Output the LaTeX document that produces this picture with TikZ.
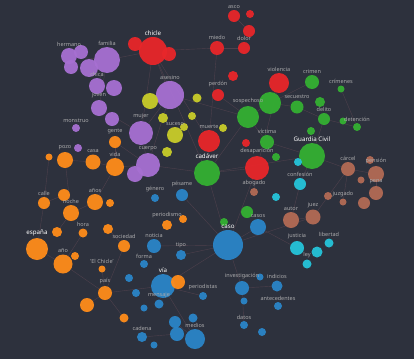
\documentclass[tikz,border=0pt]{standalone}
\usepackage{fontspec}
\setmainfont{Noto Sans}
\usepackage{tikz}
\usetikzlibrary{positioning}
\definecolor{bgcol}{RGB}{45,49,61}
\definecolor{cpurple}{RGB}{167,112,210}
\definecolor{cred}{RGB}{232,38,42}
\definecolor{cyellow}{RGB}{200,204,42}
\definecolor{cgreen}{RGB}{52,176,50}
\definecolor{corange}{RGB}{255,140,26}
\definecolor{cblue}{RGB}{42,133,200}
\definecolor{ccyan}{RGB}{37,196,218}
\definecolor{cbrown}{RGB}{178,106,85}
\definecolor{clabel}{RGB}{170,170,172}
\definecolor{cedge}{RGB}{78,64,76}
\pgfdeclarelayer{bg}
\pgfdeclarelayer{fg}
\pgfsetlayers{bg,main,fg}
\tikzset{
  wordcircle/.style = {circle,inner sep=0pt,fill opacity=0.95},
  termlabel/.style  = {inner sep=0.5pt, text=clabel, font=\fontsize{5.5}{6}\selectfont},
  hubload/.style    = {inner sep=0.5pt, text=white, font=\fontsize{6.2}{7}\selectfont\bfseries},
  link/.style       = {draw=cedge, line width=0.4pt}
}
\newcommand{\DrawTerm}[6][termlabel]{%
  % draws the circle (term)
  \node[wordcircle,fill=#5,minimum size=#4pt] (#2) at #3 {};
  % displays the word (top), kept above every circle
  \begin{pgfonlayer}{fg}
    \node[#1,above=1pt of #2] {#6};
  \end{pgfonlayer}
}
\newcommand{\DrawDot}[4]{%
  % circle with no word
  \node[wordcircle,fill=#4,minimum size=#3pt] (#1) at #2 {};
}

\begin{document}
\begin{tikzpicture}[x=1pt,y=-1pt]
    \begin{pgfonlayer}{bg}
      \fill[bgcol] (0,0) rectangle (414,359);
    \end{pgfonlayer}
    \useasboundingbox (0,0) rectangle (414,359);

    % purple group
    \DrawTerm{hermano}{(69,56)}{16}{cpurple}{hermano}
    \DrawDot{pA}{(81,52)}{14}{cpurple}
    \DrawDot{pB}{(71,67)}{14}{cpurple}
    \DrawDot{pC}{(89,68)}{18}{cpurple}
    \DrawTerm{familia}{(107,60)}{26}{cpurple}{familia}
    \DrawTerm{chica}{(97,86)}{16}{cpurple}{chica}
    \DrawDot{pD}{(114,88)}{16}{cpurple}
    \DrawTerm{joven}{(99,108)}{16}{cpurple}{joven}
    \DrawDot{pE}{(112,119)}{14}{cpurple}
    \DrawTerm{monstruo}{(76,128)}{8}{cpurple}{monstruo}
    \DrawDot{pF}{(78,148)}{8}{cpurple}
    \DrawTerm{asesino}{(170,95)}{28}{cpurple}{asesino}
    \DrawTerm{mujer}{(141,133)}{24}{cpurple}{mujer}
    \DrawTerm{cuerpo}{(148,165)}{24}{cpurple}{cuerpo}
    \DrawDot{pG}{(135,174)}{16}{cpurple}

    % red group
    \DrawTerm[hubload]{chicle}{(153,51)}{28}{cred}{chicle}
    \DrawDot{rA}{(135,44)}{14}{cred}
    \DrawDot{rB}{(169,54)}{14}{cred}
    \DrawTerm{asco}{(234,16)}{12}{cred}{asco}
    \DrawDot{rC}{(250,14)}{8}{cred}
    \DrawDot{rD}{(249,31)}{12}{cred}
    \DrawTerm{miedo}{(217,48)}{14}{cred}{miedo}
    \DrawTerm{dolor}{(244,48)}{12}{cred}{dolor}
    \DrawDot{rE}{(233,76)}{10}{cred}
    \DrawTerm{perdon}{(218,95)}{12}{cred}{perdón}
    \DrawTerm{violencia}{(279,83)}{20}{cred}{violencia}
    \DrawTerm{muerte}{(209,141)}{22}{cred}{muerte}
    \DrawDot{rF}{(246,143)}{8}{cred}
    \DrawTerm{desaparicion}{(257,168)}{24}{cred}{desaparición}

    % yellow group
    \DrawDot{yA}{(150,101)}{16}{cyellow}
    \DrawDot{yB}{(197,98)}{9}{cyellow}
    \DrawDot{yC}{(163,118)}{10}{cyellow}
    \DrawDot{yD}{(192,116)}{8}{cyellow}
    \DrawDot{yE}{(184,127)}{8}{cyellow}
    \DrawTerm{suceso}{(175,135)}{16}{cyellow}{suceso}
    \DrawDot{yF}{(167,152)}{10}{cyellow}
    \DrawDot{yG}{(223,128)}{8}{cyellow}

    % green group
    \DrawTerm{sospechoso}{(248,117)}{22}{cgreen}{sospechoso}
    \DrawDot{gA}{(270,103)}{22}{cgreen}
    \DrawTerm{crimen}{(312,82)}{14}{cgreen}{crimen}
    \DrawTerm{crimenes}{(341,89)}{7}{cgreen}{crímenes}
    \DrawTerm{secuestro}{(297,107)}{13}{cgreen}{secuestro}
    \DrawDot{gB}{(320,102)}{10}{cgreen}
    \DrawTerm{delito}{(324,119)}{12}{cgreen}{delito}
    \DrawDot{gC}{(343,121)}{7}{cgreen}
    \DrawTerm{detencion}{(357,127)}{8}{cgreen}{detención}
    \DrawTerm{victima}{(267,142)}{14}{cgreen}{víctima}
    \DrawDot{gD}{(311,131)}{8}{cgreen}
    \DrawTerm[hubload]{guardia}{(312,156)}{26}{cgreen}{Guardia Civil}
    \DrawTerm[hubload]{cadaver}{(207,173)}{26}{cgreen}{cadáver}
    \DrawDot{gE}{(276,157)}{8}{cgreen}
    \DrawDot{gF}{(247,212)}{12}{cgreen}
    \DrawDot{gG}{(224,222)}{8}{cgreen}

    % cyan group
    \DrawDot{cA}{(298,162)}{8}{ccyan}
    \DrawTerm{confesion}{(300,184)}{12}{ccyan}{confesión}
    \DrawDot{cB}{(276,197)}{8}{ccyan}
    \DrawTerm{justicia}{(297,248)}{14}{ccyan}{justicia}
    \DrawTerm{libertad}{(329,243)}{9}{ccyan}{libertad}
    \DrawDot{cC}{(317,252)}{11}{ccyan}
    \DrawTerm{ley}{(307,264)}{9}{ccyan}{ley}

    % brown group
    \DrawTerm{abogado}{(254,192)}{8}{cbrown}{abogado}
    \DrawTerm{carcel}{(348,169)}{14}{cbrown}{cárcel}
    \DrawDot{bA}{(370,160)}{8}{cbrown}
    \DrawTerm{pension}{(376,174)}{16}{cbrown}{pensión}
    \DrawDot{bB}{(361,180)}{7}{cbrown}
    \DrawTerm{pena}{(376,193)}{14}{cbrown}{pena}
    \DrawDot{bC}{(328,196)}{8}{cbrown}
    \DrawTerm{juzgado}{(343,202)}{7}{cbrown}{juzgado}
    \DrawDot{bD}{(364,203)}{12}{cbrown}
    \DrawTerm{autor}{(291,220)}{16}{cbrown}{autor}
    \DrawTerm{juez}{(313,217)}{15}{cbrown}{juez}

    % blue group
    \DrawTerm{genero}{(155,198)}{8}{cblue}{género}
    \DrawTerm{pesame}{(182,195)}{12}{cblue}{pésame}
    \DrawTerm{casos}{(258,227)}{16}{cblue}{casos}
    \DrawTerm[hubload]{caso}{(228,245)}{30}{cblue}{caso}
    \DrawTerm{noticia}{(154,246)}{14}{cblue}{noticia}
    \DrawTerm{tipo}{(181,255)}{10}{cblue}{tipo}
    \DrawTerm{forma}{(144,264)}{8}{cblue}{forma}
    \DrawTerm[hubload]{via}{(163,286)}{24}{cblue}{vía}
    \DrawTerm{periodistas}{(203,296)}{8}{cblue}{periodistas}
    \DrawDot{uA}{(136,293)}{8}{cblue}
    \DrawDot{uB}{(129,278)}{8}{cblue}
    \DrawTerm{mensaje}{(159,304)}{9}{cblue}{mensaje}
    \DrawDot{uC}{(144,308)}{7}{cblue}
    \DrawTerm{investigacion}{(242,288)}{14}{cblue}{investigación}
    \DrawDot{uD}{(260,277)}{7}{cblue}
    \DrawDot{uE}{(244,301)}{7}{cblue}
    \DrawTerm{indicios}{(277,286)}{11}{cblue}{indicios}
    \DrawTerm{antecedentes}{(278,306)}{8}{cblue}{antecedentes}
    \DrawDot{uF}{(193,318)}{9}{cblue}
    \DrawDot{uG}{(175,322)}{12}{cblue}
    \DrawDot{uH}{(177,334)}{14}{cblue}
    \DrawTerm{medios}{(195,339)}{20}{cblue}{medios}
    \DrawTerm{cadena}{(142,337)}{10}{cblue}{cadena}
    \DrawDot{uI}{(154,345)}{7}{cblue}
    \DrawTerm{datos}{(244,325)}{8}{cblue}{datos}
    \DrawDot{uJ}{(262,332)}{8}{cblue}

    % orange group
    \DrawTerm{gente}{(115,142)}{12}{corange}{gente}
    \DrawTerm{pozo}{(65,160)}{16}{corange}{pozo}
    \DrawDot{oA}{(49,157)}{7}{corange}
    \DrawTerm{casa}{(93,162)}{15}{corange}{casa}
    \DrawTerm{vida}{(115,167)}{18}{corange}{vida}
    \DrawTerm{calle}{(44,203)}{12}{corange}{calle}
    \DrawDot{oB}{(64,195)}{12}{corange}
    \DrawTerm{noche}{(71,213)}{16}{corange}{noche}
    \DrawTerm{anos}{(95,202)}{16}{corange}{años}
    \DrawDot{oC}{(110,203)}{8}{corange}
    \DrawTerm{hora}{(83,233)}{9}{corange}{hora}
    \DrawDot{oD}{(57,232)}{10}{corange}
    \DrawDot{oE}{(108,229)}{10}{corange}
    \DrawTerm{periodismo}{(167,225)}{10}{corange}{periodismo}
    \DrawDot{oF}{(183,219)}{8}{corange}
    \DrawTerm{sociedad}{(124,246)}{12}{corange}{sociedad}
    \DrawTerm[hubload]{espana}{(37,249)}{22}{corange}{españa}
    \DrawTerm{ano}{(63,264)}{19}{corange}{año}
    \DrawDot{oG}{(75,256)}{8}{corange}
    \DrawTerm{elchicle}{(102,269)}{7}{corange}{'El Chicle'}
    \DrawTerm{pais}{(105,293)}{14}{corange}{país}
    \DrawDot{oH}{(87,305)}{14}{corange}
    \DrawDot{oI}{(124,318)}{9}{corange}
    \DrawDot{oJ}{(178,282)}{14}{corange}

    % links between terms
    \begin{pgfonlayer}{bg}
      \foreach \a/\b in {chicle/familia, chicle/asesino, chicle/miedo, chicle/rA,
          chicle/rB, chicle/mujer, chicle/cadaver, chicle/muerte, asesino/mujer,
          asesino/sospechoso, asesino/yA, asesino/cuerpo, familia/chica,
          familia/joven, familia/hermano, joven/mujer, mujer/cuerpo,
          cuerpo/cadaver, cuerpo/vida, cuerpo/gente, cadaver/muerte,
          cadaver/caso, cadaver/guardia, cadaver/desaparicion,
          cadaver/sospechoso, sospechoso/gA, sospechoso/victima,
          sospechoso/perdon, gA/violencia, gA/secuestro, crimen/gA,
          secuestro/delito, delito/detencion, guardia/delito, guardia/victima,
          guardia/confesion, guardia/carcel, desaparicion/caso,
          desaparicion/abogado, caso/casos, caso/investigacion, caso/via,
          caso/noticia, caso/tipo, caso/pesame, caso/juez, casos/justicia,
          juez/autor, juez/carcel, pena/pension, carcel/pension, carcel/juzgado,
          via/mensaje, via/periodistas, via/medios, via/oJ, via/pais,
          medios/uG, medios/uH, cadena/uH, espana/ano, espana/calle, ano/pais,
          pais/oH, pais/oI, pais/elchicle, noche/anos, noche/pozo, calle/oB,
          casa/vida, pozo/casa, anos/vida, vida/gente, sociedad/pais,
          hora/ano, oD/noche, oE/sociedad, oA/calle, investigacion/indicios,
          investigacion/datos, confesion/autor, miedo/dolor, asco/rD,
          miedo/muerte, violencia/desaparicion, crimenes/detencion}
        \draw[link] (\a) -- (\b);
    \end{pgfonlayer}
  \end{tikzpicture}
\end{document}
